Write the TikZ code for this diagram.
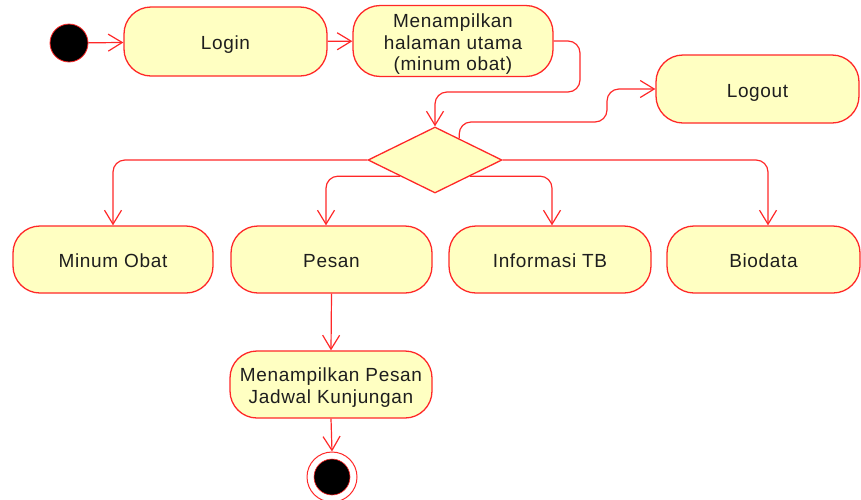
\documentclass[tikz,border=0pt]{standalone}
\usepackage{fontspec}
\setmainfont{Liberation Sans}[LetterSpace=3.5]
\usetikzlibrary{shapes.geometric,arrows.meta,calc}

\definecolor{actfill}{RGB}{255,255,194}
\definecolor{actline}{RGB}{255,40,40}
\definecolor{acttext}{RGB}{30,30,30}

% first-line strut that lowers multi-line labels a little
\newcommand{\toppad}{\rule{0pt}{20pt}}

\tikzset{
  activity/.style={draw=actline, fill=actfill, line width=1.3pt,
    rounded corners=27pt, minimum width=#1, minimum height=67pt,
    inner sep=2pt, align=center, text=acttext,
    font=\fontsize{19}{21.5}\selectfont},
  activity/.default=201pt,
  oneline/.style={text height=16.6pt, text depth=0pt},
  decision/.style={draw=actline, fill=actfill, line width=1.3pt,
    diamond, minimum width=134pt, minimum height=66pt, inner sep=0pt},
  startnode/.style={circle, draw=actline, fill=black, line width=0.8pt,
    minimum size=38pt, inner sep=0pt},
  endring/.style={circle, draw=actline, fill=white, line width=1pt,
    minimum size=50pt, inner sep=0pt},
  enddot/.style={circle, draw=actline, fill=black, line width=0.6pt,
    minimum size=36pt, inner sep=0pt},
  flow/.style={draw=actline, line width=1.2pt, rounded corners=12pt,
    -{Straight Barb[length=14pt,width=17pt,line width=1.2pt]}},
}

\begin{document}
\begin{tikzpicture}[x=1pt,y=-1pt]
  \useasboundingbox (0,0) rectangle (861,499);

  % activities
  \node[startnode] (start) at (69,43) {};
  \node[activity=203pt, oneline, minimum height=69pt] (login) at (225.5,41.5) {Login};
  \node[activity=200pt, minimum height=68pt] (menu) at (453,41)
    {\toppad Menampilkan\\halaman utama\\(minum obat)};
  \node[decision] (dec) at (435,160) {};
  \node[activity=203pt, oneline, minimum height=68pt] (logout) at (757.5,89) {Logout};

  \node[activity=200pt, oneline] (minum) at (113,259.5) {Minum Obat};
  \node[activity=201pt, oneline] (pesan) at (331.5,259.5) {Pesan};
  \node[activity=202pt, oneline] (info) at (550,259.5) {Informasi TB};
  \node[activity=193pt, oneline] (bio) at (763.5,259.5) {Biodata};

  \node[activity=202pt] (jadwal) at (331,384.5)
    {\toppad Menampilkan Pesan\\Jadwal Kunjungan};

  \node[endring] (endo) at (332,477) {};
  \node[enddot] (end) at (332,477) {};

  % connectors
  \draw[flow] (start) -- (login);
  \draw[flow] (login) -- (menu);
  \draw[flow] (menu.east) -- (580,41) -- (580,92) -- (435,92) -- (dec.north);

  \coordinate (dLogout) at ($(dec.north)!0.36!(dec.east)$);
  \draw[flow] (dLogout) -- (459,122) -- (607,122) -- (607,89) -- (logout.west);

  \coordinate (dPesan) at ($(dec.west)!0.48!(dec.south)$);
  \coordinate (dInfo) at ($(dec.east)!0.48!(dec.south)$);
  \coordinate (tPesan) at ($(pesan.north)+(-5.5,0)$);
  \coordinate (tInfo) at ($(info.north)+(2,0)$);
  \coordinate (tBio) at ($(bio.north)+(4.5,0)$);

  \draw[flow] (dec.west) -| (minum.north);
  \draw[flow] (dPesan) -| (tPesan);
  \draw[flow] (dInfo) -| (tInfo);
  \draw[flow] (dec.east) -| (tBio);

  \draw[flow] (pesan.south) -- (jadwal.north);
  \draw[flow] (jadwal.south) -- (endo.north);
\end{tikzpicture}
\end{document}
